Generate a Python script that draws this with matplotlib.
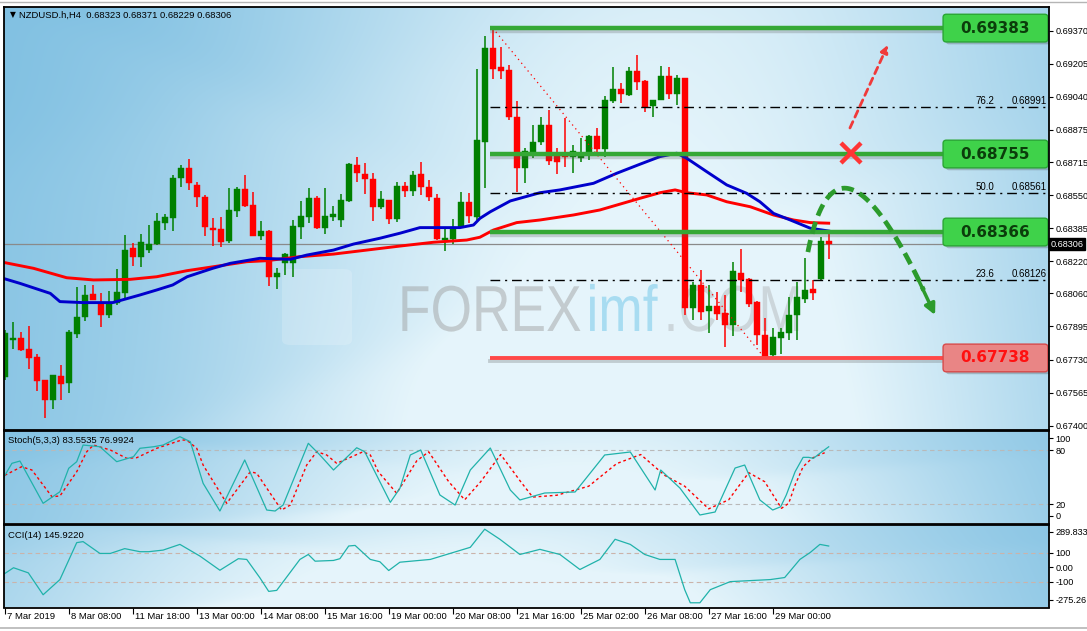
import numpy as np
import matplotlib.pyplot as plt
from matplotlib.patches import FancyBboxPatch, PathPatch
from matplotlib.textpath import TextPath
from matplotlib.font_manager import FontProperties
from matplotlib.transforms import Affine2D, blended_transform_factory

plt.rcParams['font.family'] = ['Liberation Sans', 'DejaVu Sans']

W, H = 1087, 631

# NZDUSD H4 candles, oldest first (bar 0 = 7 Mar 2019)
opens = [0.67644, 0.67827, 0.67838, 0.67785, 0.67743, 0.67627, 0.67527, 0.67648, 0.67614, 0.67857,
         0.67943, 0.68056, 0.68010, 0.67951, 0.68013, 0.68063, 0.68284, 0.68242, 0.68276, 0.68304,
         0.68412, 0.68437, 0.68634, 0.68686, 0.68600, 0.68542, 0.68385, 0.68380, 0.68322, 0.68472,
         0.68579, 0.68500, 0.68347, 0.68371, 0.68142, 0.68212, 0.68212, 0.68392, 0.68442, 0.68537,
         0.68384, 0.68439, 0.68425, 0.68520, 0.68700, 0.68655, 0.68630, 0.68489, 0.68525, 0.68430,
         0.68595, 0.68572, 0.68653, 0.68592, 0.68534, 0.68326, 0.68331, 0.68389, 0.68517, 0.68439,
         0.68816, 0.69285, 0.69190, 0.69174, 0.68938, 0.68686, 0.68758, 0.68816, 0.68899, 0.68761,
         0.68750, 0.68741, 0.68736, 0.68758, 0.68845, 0.68780, 0.69021, 0.69079, 0.69049, 0.69169,
         0.69120, 0.68994, 0.69024, 0.69144, 0.69054, 0.69133, 0.67985, 0.68101, 0.67971, 0.67996,
         0.67960, 0.67901, 0.68164, 0.68130, 0.68017, 0.67852, 0.67752, 0.67838, 0.67860, 0.67951,
         0.68031, 0.68080, 0.68130, 0.68323]
highs = [0.67877, 0.67918, 0.67868, 0.67897, 0.67760, 0.67630, 0.67655, 0.67704, 0.67877, 0.68090,
         0.68101, 0.68101, 0.68063, 0.68073, 0.68184, 0.68351, 0.68312, 0.68356, 0.68400, 0.68462,
         0.68455, 0.68650, 0.68700, 0.68730, 0.68613, 0.68550, 0.68434, 0.68439, 0.68584, 0.68592,
         0.68650, 0.68567, 0.68422, 0.68375, 0.68187, 0.68262, 0.68425, 0.68520, 0.68587, 0.68545,
         0.68584, 0.68495, 0.68554, 0.68708, 0.68741, 0.68708, 0.68658, 0.68570, 0.68527, 0.68613,
         0.68613, 0.68670, 0.68713, 0.68625, 0.68555, 0.68384, 0.68430, 0.68567, 0.68559, 0.69179,
         0.69344, 0.69383, 0.69290, 0.69198, 0.69019, 0.68783, 0.68899, 0.68938, 0.68974, 0.68783,
         0.68933, 0.68800, 0.68833, 0.68848, 0.68883, 0.69044, 0.69190, 0.69108, 0.69190, 0.69249,
         0.69122, 0.69026, 0.69194, 0.69190, 0.69149, 0.69135, 0.68117, 0.68176, 0.68101, 0.68068,
         0.68051, 0.68217, 0.68279, 0.68137, 0.68020, 0.67935, 0.67885, 0.67885, 0.68040, 0.68117,
         0.68234, 0.68126, 0.68342, 0.68371]
lows = [0.67627, 0.67785, 0.67773, 0.67685, 0.67573, 0.67441, 0.67482, 0.67527, 0.67564, 0.67838,
        0.67923, 0.68026, 0.67893, 0.67935, 0.68001, 0.68035, 0.68196, 0.68192, 0.68262, 0.68300,
        0.68376, 0.68372, 0.68589, 0.68575, 0.68492, 0.68346, 0.68296, 0.68289, 0.68309, 0.68439,
        0.68492, 0.68347, 0.68326, 0.68096, 0.68080, 0.68151, 0.68142, 0.68331, 0.68412, 0.68379,
        0.68356, 0.68422, 0.68392, 0.68514, 0.68617, 0.68555, 0.68420, 0.68480, 0.68405, 0.68417,
        0.68539, 0.68547, 0.68550, 0.68520, 0.68325, 0.68272, 0.68306, 0.68384, 0.68409, 0.68425,
        0.68587, 0.69129, 0.69129, 0.68924, 0.68564, 0.68612, 0.68733, 0.68800, 0.68700, 0.68653,
        0.68691, 0.68658, 0.68716, 0.68725, 0.68766, 0.68741, 0.69008, 0.69011, 0.69044, 0.69074,
        0.68966, 0.68941, 0.69022, 0.69029, 0.68999, 0.67951, 0.67926, 0.67926, 0.67863, 0.67926,
        0.67793, 0.67847, 0.68068, 0.67993, 0.67802, 0.67738, 0.67743, 0.67760, 0.67830, 0.67827,
        0.68010, 0.68026, 0.68123, 0.68229]
closes = [0.67860, 0.67838, 0.67777, 0.67738, 0.67623, 0.67527, 0.67652, 0.67607, 0.67868, 0.67940,
          0.68051, 0.68026, 0.67951, 0.68010, 0.68068, 0.68276, 0.68239, 0.68317, 0.68304, 0.68420,
          0.68442, 0.68637, 0.68686, 0.68609, 0.68542, 0.68389, 0.68376, 0.68317, 0.68475, 0.68579,
          0.68497, 0.68347, 0.68371, 0.68142, 0.68164, 0.68256, 0.68395, 0.68445, 0.68534, 0.68384,
          0.68445, 0.68455, 0.68525, 0.68703, 0.68658, 0.68629, 0.68489, 0.68530, 0.68430, 0.68595,
          0.68572, 0.68650, 0.68589, 0.68542, 0.68329, 0.68337, 0.68389, 0.68517, 0.68445, 0.68825,
          0.69285, 0.69179, 0.69170, 0.68938, 0.68686, 0.68770, 0.68816, 0.68899, 0.68721, 0.68716,
          0.68741, 0.68770, 0.68761, 0.68845, 0.68780, 0.69024, 0.69079, 0.69053, 0.69169, 0.69115,
          0.68991, 0.69024, 0.69144, 0.69054, 0.69133, 0.67985, 0.68101, 0.67968, 0.67996, 0.67956,
          0.67901, 0.68171, 0.68126, 0.68006, 0.67852, 0.67743, 0.67843, 0.67868, 0.67951, 0.68043,
          0.68076, 0.68063, 0.68321, 0.68306]

# moving averages (bar position, price)
ma_fast_bar = [-0.2, 1.9, 5.7, 6.9, 9.8, 13.5, 16.9, 19, 21, 22.8, 26, 28.2, 31.9, 35.7, 37.75,
               41.1, 43.6, 46.9, 49.4, 51.9, 56.9, 58.6, 59.4, 60.7, 63.2, 66.9, 69.4, 73.6, 76.5,
               79.4, 81.9, 84, 85.25, 87.75, 90.25, 92.75, 94.4, 96.1, 98.2, 100.7, 103]
ma_fast = [0.68135, 0.68110, 0.68060, 0.68019, 0.68014, 0.68014, 0.68052, 0.68077, 0.68102, 0.68143,
           0.68185, 0.68210, 0.68235, 0.68230, 0.68251, 0.68276, 0.68306, 0.68335, 0.68360, 0.68388,
           0.68388, 0.68401, 0.68434, 0.68467, 0.68521, 0.68562, 0.68576, 0.68609, 0.68659, 0.68704,
           0.68742, 0.68759, 0.68734, 0.68667, 0.68601, 0.68559, 0.68517, 0.68459, 0.68426, 0.68385,
           0.68371]
ma_slow_bar = [-0.2, 3.6, 7.75, 11.1, 15.7, 19, 22.75, 26.1, 30.25, 32.75, 36.9, 41.1, 45.25, 49.4,
               53.6, 57.75, 59.4, 61.1, 64, 66.9, 71.1, 74.4, 79.4, 81.9, 83.8, 85.25, 87.75, 90.25,
               93.2, 96.1, 98.6, 100.7, 103]
ma_slow = [0.68215, 0.68185, 0.68138, 0.68127, 0.68130, 0.68143, 0.68173, 0.68193, 0.68218, 0.68223,
           0.68243, 0.68256, 0.68276, 0.68296, 0.68315, 0.68326, 0.68340, 0.68376, 0.68413, 0.68426,
           0.68451, 0.68476, 0.68534, 0.68562, 0.68576, 0.68562, 0.68551, 0.68517, 0.68492, 0.68451,
           0.68426, 0.68413, 0.68410]

# Stochastic(5,3,3) turning points (bar position, value)
stoch_k_bar = [-0.2, 0.9, 1.9, 4.8, 6.9, 8.0, 9.0, 9.8, 11.9, 14.0, 16.1, 16.9, 18.6, 19.8, 21.9,
               23.2, 24.8, 26.9, 30.0, 32.75, 33.8, 34.8, 37.95, 39.4, 41.1, 44.0, 45.0, 48.2, 49.4,
               50.7, 52, 54.4, 56.3, 58.2, 60.7, 63.2, 64.4, 67.5, 71.3, 75, 78.2, 81.3, 82, 84.4,
               86.9, 88.8, 91.3, 92.5, 94.4, 96, 97, 97.7, 98.8, 99.8, 100.5, 101.1, 101.9, 103]
stoch_k = [48.7, 65.3, 67.8, 21.1, 33.9, 59.8, 67.1, 85.5, 83.6, 67.1, 72.6, 81.9, 83.6, 85.5, 94.7,
           89.2, 43.2, 12.6, 69.0, 13.7, 12.6, 19.2, 87.4, 74.5, 57.9, 82.5, 78.1, 22.2, 37.7,
           74.5, 80.0, 30.3, 19.2, 57.9, 82.2, 35.8, 24.8, 32.5, 33.6, 74.5, 77.8, 35.8, 57.9, 38.0,
           8.2, 11.5, 60.1, 63.4, 24.8, 13.7, 17.3, 30.3, 56.0, 71.9, 71.9, 70.8, 76.4, 83.55]
stoch_d_bar = [0, 2.1, 3.4, 5.9, 6.9, 9, 10.25, 11.1, 13.2, 15.25, 16.5, 19, 22.1, 22.75, 24, 24.8,
               27.75, 30.7, 31.5, 34.6, 35.7, 37.75, 39, 40.25, 41.5, 44.8, 45.7, 46.7, 49,
               51.5, 53, 55.5, 57.5, 59.5, 62, 64.5, 66, 69, 73, 76.5, 79.5, 82.5, 85, 88, 90.5, 93,
               95, 97.1, 98, 98.8, 99.8, 100.9, 101.5, 102.5]
stoch_d = [52.0, 61.5, 57.9, 28.4, 29.2, 56.0, 78.1, 85.5, 80.0, 70.8, 71.5, 81.9, 91.0, 91.0, 81.9,
           63.4, 21.1, 56.0, 54.3, 13.7, 19.2, 63.4, 78.1, 74.5, 65.3, 78.1, 74.5, 56.0, 32.2,
           68, 78, 45, 25, 45, 75, 45, 28, 30, 40, 65, 75, 52, 40, 15, 25, 55,
           45, 15.6, 21.1, 41.3, 61.5, 70.8, 73.4, 76.99]

# CCI(14) turning points (bar position, value)
cci_bar = [-0.2, 1.1, 2.95, 4.8, 6.9, 9, 9.8, 11.9, 13.2, 15, 16.9, 18, 19.8, 21.9, 24.4, 26.9,
           29.2, 30.25, 31.9, 33, 34, 36.9, 37.95, 38.8, 41.1, 41.9, 43, 43.8, 45.7, 46.9, 48,
           49.4, 53.2, 58.2, 60, 61.9, 64.4, 66.9, 69.4, 71.9, 74.4, 76.3, 78.2, 80, 81.9, 83.8,
           85, 85.7, 86.9, 88.2, 90.7, 95.7, 97.5, 99.4, 100.7, 101.9, 103]
cci = [-50, -3, -38, -188, -84, 169, 176, 95, 95, 128, 107, 107, 118, 157, 77, -20,
       59, 54, -72, -165, -158, 54, 88, 42, 47, 59, 146, 150, 54, 38, -22,
       35, 54, 137, 261, 192, 88, 123, 88, -15, 54, 192, 157, 88, 54, 54,
       -153, -243, -243, -153, -98, -84, -70, 54, 102, 157, 145.92]

levels_green = [0.69383, 0.68755, 0.68366]
level_red = 0.67738
fib_ratios = ['76.2', '50.0', '23.6']
fib_prices = [0.68991, 0.68561, 0.68126]
last_price = 0.68306

price_ticks = [0.69370, 0.69205, 0.69040, 0.68875, 0.68715, 0.68550, 0.68385, 0.68220,
               0.68060, 0.67895, 0.67730, 0.67565, 0.67400]
time_ticks = list(range(0, 104, 8))
time_labels = ['7 Mar 2019', '8 Mar 08:00', '11 Mar 18:00', '13 Mar 00:00', '14 Mar 08:00',
               '15 Mar 16:00', '19 Mar 00:00', '20 Mar 08:00', '21 Mar 16:00', '25 Mar 02:00',
               '26 Mar 08:00', '27 Mar 16:00', '29 Mar 00:00']

fig = plt.figure(figsize=(W / 100, H / 100), dpi=100)
fig.patch.set_facecolor('white')


def px_axes(x0, y0, x1, y1):
    # box given in pixels from the top-left corner
    return fig.add_axes([x0 / W, 1 - y1 / H, (x1 - x0) / W, (y1 - y0) / H])


def smooth_step(z, width=0.03):
    return 1 / (1 + np.exp(-z / width))


def paint_bg(a, cx, spread):
    u = np.linspace(0, 1, 600)[None, :]
    v = np.linspace(0, 1, 240)[:, None]
    light = np.exp(-((u - cx) / spread) ** 2) * (0.8 + 0.2 * v)
    # soft diagonal facets like the stock MT4 background picture
    light = light + 0.10 * smooth_step(v + 0.9 * u - 1.15) * smooth_step(0.9 - u, 0.08)
    light = light + 0.07 * smooth_step(v - 1.1 * u + 0.05) * smooth_step(0.45 - u, 0.08)
    light = light - 0.06 * smooth_step(0.35 - v - 0.6 * u, 0.05)
    light = np.clip(0.12 + light, 0, 1)
    dark = np.array([0.40, 0.70, 0.86])
    bright = np.array([0.90, 0.96, 0.985])
    img = dark + (bright - dark) * light[..., None]
    a.imshow(img, extent=[0, 1, 0, 1], transform=a.transAxes, aspect='auto', zorder=0,
             interpolation='bilinear')


ax = px_axes(4, 7, 1049, 430)
ax_st = px_axes(4, 431, 1049, 523.5)
ax_cci = px_axes(4, 525, 1049, 607.5)

paint_bg(ax, 0.62, 0.42)
paint_bg(ax_st, 0.55, 0.40)
paint_bg(ax_cci, 0.45, 0.45)

x_lo, x_hi = -0.09, 130.54
for a in (ax, ax_st, ax_cci):
    a.set_xlim(x_lo, x_hi)
    for s in a.spines.values():
        s.set_color('black')
        s.set_linewidth(1.3)
        s.set_zorder(20)

# ---------------- main panel ----------------
ax.set_ylim(0.673787, 0.694882)

# watermark
fp = FontProperties(family='Liberation Sans')
to_fig = Affine2D().scale(1 / W, 1 / H) + fig.transFigure
xpos = 398
for part, col, al in [('FOREX', '#9a9a9a', 0.45), ('imf', '#8fd3ee', 0.7), ('.COM', '#a0a0a0', 0.35)]:
    tp = TextPath((0, 0), part, size=65, prop=fp)
    tr = Affine2D().scale(0.82, 1).translate(xpos, H - 331) + to_fig
    ax.add_patch(PathPatch(tp, transform=tr, fc=col, ec='none', alpha=al, zorder=1))
    xpos += tp.get_extents().x1 * 0.82 + 6
logo = FancyBboxPatch((282 / W, 1 - 345 / H), 70 / W, 76 / H, boxstyle='round,pad=0,rounding_size=0.008',
                      transform=fig.transFigure, fc='white', ec='none', alpha=0.18, zorder=1)
ax.add_patch(logo)

x = np.arange(len(opens))
o, hi, lo, c = map(np.array, (opens, highs, lows, closes))
up = c >= o
col = np.where(up, '#008000', '#ff0000')
ax.vlines(x, lo, hi, colors=col, lw=1.1, zorder=4)
ax.bar(x, np.maximum(np.abs(c - o), 0.000025), bottom=np.minimum(o, c), width=0.72,
       color=col, edgecolor=col, lw=0.3, zorder=4)

ax.axhline(last_price, color='#8a8a8a', lw=0.9, zorder=3)
ax.plot(ma_slow_bar, ma_slow, color='#ff0000', lw=2.1, zorder=5)
ax.plot(ma_fast_bar, ma_fast, color='#0000cc', lw=2.1, zorder=5)

seg_start, seg_end = 60.66, 117.5
for lv in levels_green:
    ax.plot([seg_start, seg_end], [lv - 0.00013, lv - 0.00013], color='#555555', lw=3.2, alpha=0.25,
            zorder=6, solid_capstyle='butt')
    ax.plot([seg_start, seg_end], [lv, lv], color='#35a835', lw=3.2, zorder=7, solid_capstyle='butt')
ax.plot([seg_start, seg_end], [level_red - 0.00013] * 2, color='#555555', lw=2.8, alpha=0.25, zorder=6)
ax.plot([seg_start, seg_end], [level_red] * 2, color='#ff4848', lw=2.8, zorder=7, solid_capstyle='butt')

for r, fpx in zip(fib_ratios, fib_prices):
    ax.plot([seg_start, x_hi], [fpx, fpx], color='black', lw=1.0, dashes=(7, 3.5, 1.5, 3.5), zorder=6)
    ax.text(122.5, fpx + 0.00005, r, ha='center', va='bottom', fontsize=7, zorder=8)
    ax.text(130.3, fpx + 0.00005, f'{fpx:.5f}', ha='right', va='bottom', fontsize=7, zorder=8)

# fibo trend line from the high to the low
i_hi, i_lo = 61, 95
ax.plot([i_hi, i_lo], [highs[i_hi], lows[i_lo]], color='#ff0000', lw=0.9, dashes=(1, 3), zorder=6)

# level boxes
box_x0, box_w, box_h = 117.3, 13.1, 0.00138
for lv, fc, ec, tc in [(levels_green[0], '#3fd24a', '#2aa634', '#0b3d0b'),
                       (levels_green[1], '#3fd24a', '#2aa634', '#0b3d0b'),
                       (levels_green[2], '#3fd24a', '#2aa634', '#0b3d0b'),
                       (level_red, '#e98585', '#d84a4a', '#ff1010')]:
    sh = FancyBboxPatch((box_x0 + 0.35, lv - box_h / 2 - 0.00012), box_w, box_h,
                        boxstyle='round,pad=0,rounding_size=0.4', mutation_aspect=0.0004,
                        fc='#303030', ec='none', alpha=0.25, zorder=8)
    ax.add_patch(sh)
    bx = FancyBboxPatch((box_x0, lv - box_h / 2), box_w, box_h,
                        boxstyle='round,pad=0,rounding_size=0.4', mutation_aspect=0.0004,
                        fc=fc, ec=ec, lw=1.0, zorder=9)
    ax.add_patch(bx)
    ax.text(box_x0 + box_w / 2, lv, f'{lv:.5f}', ha='center', va='center', fontsize=11,
            fontweight='bold', family='DejaVu Sans', color=tc, zorder=10)

# projected paths
ax.annotate('', xy=(110.4, 0.69299), xytext=(105.66, 0.68885),
            arrowprops=dict(arrowstyle='-|>', color='#f03a3a', lw=2.0, linestyle=(0, (2.5, 1.8)),
                            mutation_scale=11, shrinkA=0, shrinkB=0), zorder=9)
ax.plot([105.8], [0.68760], marker='x', ms=15, mew=3.2, color='#ff3535', zorder=9)
p0, pc, p2 = np.array([100.4, 0.68266]), np.array([104.2, 0.69034]), np.array([116.3, 0.67952])
t = np.linspace(0, 0.94, 60)[:, None]
curve = (1 - t) ** 2 * p0 + 2 * t * (1 - t) * pc + t ** 2 * p2
ax.plot(curve[:, 0], curve[:, 1], color='#2c9b2c', lw=3.4, dashes=(2.6, 1.4), zorder=9)
ax.annotate('', xy=tuple(p2), xytext=tuple(curve[-4]),
            arrowprops=dict(arrowstyle='-|>', color='#2c9b2c', lw=2.5, mutation_scale=16,
                            shrinkA=0, shrinkB=0), zorder=9)

lab_fs = 6.6
ax.yaxis.tick_right()
ax.set_yticks(price_ticks)
ax.set_yticklabels([f'{p:.5f}' for p in price_ticks])
ax.tick_params(axis='y', length=3, width=0.8, pad=1.5, labelsize=lab_fs)
ax.tick_params(axis='x', bottom=False, labelbottom=False)
ax.text(1.0015, last_price, f'{last_price:.5f}', transform=blended_transform_factory(ax.transAxes, ax.transData),
        ha='left', va='center', fontsize=lab_fs, color='white', zorder=12, clip_on=False,
        bbox=dict(boxstyle='square,pad=0.12', fc='black', ec='black'))

fig.text(10 / W, 1 - 15 / H, '▼', fontsize=5.5, va='center', ha='left', family='DejaVu Sans')
fig.text(19 / W, 1 - 15 / H, 'NZDUSD.h,H4  0.68323 0.68371 0.68229 0.68306', fontsize=6.8,
         va='center', ha='left')

# ---------------- stochastic ----------------
ax_st.set_ylim(-1.2, 101)
for lv in (80, 20):
    ax_st.axhline(lv, color='#b9b9b9', lw=0.8, dashes=(4, 3), zorder=2)
ax_st.plot(stoch_d_bar, stoch_d, color='#ff0000', lw=1.0, dashes=(2, 2), zorder=3)
ax_st.plot(stoch_k_bar, stoch_k, color='#20b2aa', lw=0.9, zorder=4)
ax_st.yaxis.tick_right()
ax_st.set_yticks([92.9, 80, 20, 7.4])
ax_st.set_yticklabels(['100', '80', '20', '0'])
ax_st.tick_params(axis='y', length=3, width=0.8, pad=1.5, labelsize=lab_fs)
ax_st.tick_params(axis='x', bottom=False, labelbottom=False)
ax_st.text(0.004, 0.9, 'Stoch(5,3,3) 83.5535 76.9924', transform=ax_st.transAxes, fontsize=6.8,
           va='center', ha='left', zorder=6)

# ---------------- CCI ----------------
ax_cci.set_ylim(-275.26, 289.833)
for lv in (100, -100):
    ax_cci.axhline(lv, color='#cbb3aa', lw=0.8, dashes=(4, 3), zorder=2)
ax_cci.plot(cci_bar, cci, color='#20b2aa', lw=0.9, zorder=4)
ax_cci.yaxis.tick_right()
ax_cci.set_yticks([242, 100, 0, -100, -222])
ax_cci.set_yticklabels(['289.833', '100', '0.00', '-100', '-275.26'])
ax_cci.tick_params(axis='y', length=3, width=0.8, pad=1.5, labelsize=lab_fs)
ax_cci.text(0.004, 0.87, 'CCI(14) 145.9220', transform=ax_cci.transAxes, fontsize=6.8,
            va='center', ha='left', zorder=6)
ax_cci.set_xticks(time_ticks)
ax_cci.set_xticklabels([])
ax_cci.tick_params(axis='x', length=4, width=0.8, direction='out')
for tk, lab in zip(time_ticks, time_labels):
    ax_cci.text(tk + 0.3, -0.06, lab, transform=blended_transform_factory(ax_cci.transData, ax_cci.transAxes),
                ha='left', va='top', fontsize=6.8, clip_on=False)

# window chrome
fig.add_artist(plt.Line2D([0, 1], [1 - 2 / H, 1 - 2 / H], color='#b5b5b5', lw=1))
fig.add_artist(plt.Line2D([0, 1], [1 - 628 / H, 1 - 628 / H], color='#b5b5b5', lw=1.2))

fig.savefig('out.png', dpi=100)
